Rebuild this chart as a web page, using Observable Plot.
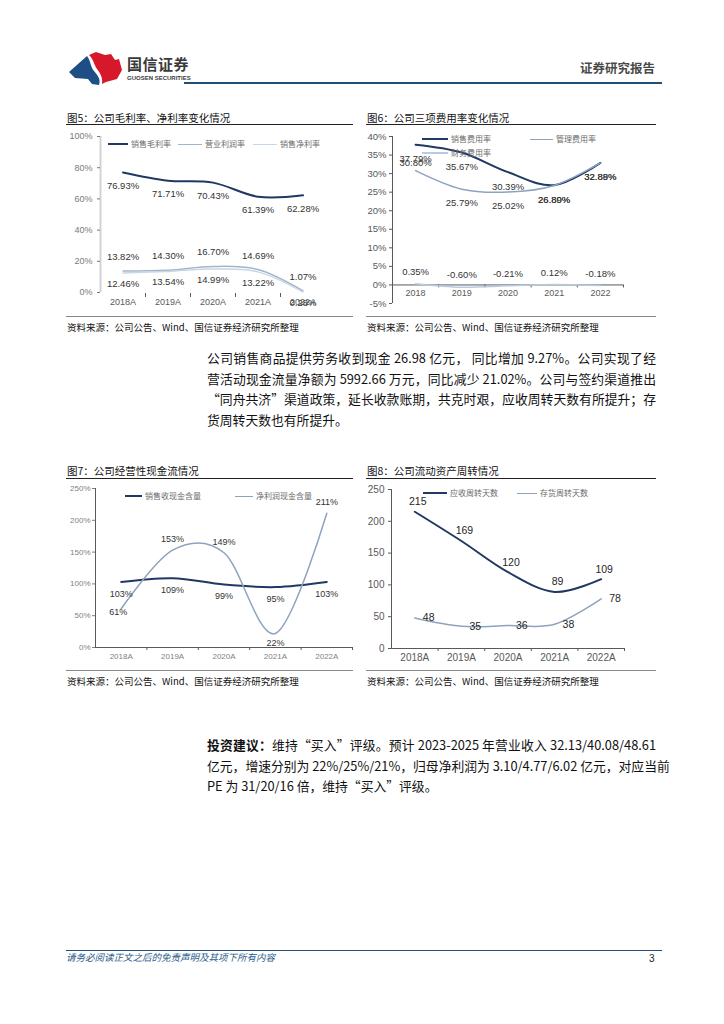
<!DOCTYPE html>
<html><head><meta charset="utf-8">
<script src="https://cdn.jsdelivr.net/npm/d3@7"></script>
<script src="https://cdn.jsdelivr.net/npm/@observablehq/plot@0.6"></script>
<style>
html,body{margin:0;padding:0;background:#fff;}
#page{position:relative;width:724px;height:1024px;overflow:hidden;font-family:"Noto Sans CJK SC","Noto Sans",sans-serif;color:#111;}
.a{position:absolute;white-space:nowrap;}
.title{font-size:10.5px;color:#111;line-height:15px;}
.src{font-size:9.5px;color:#111;line-height:14px;}
.hr{position:absolute;height:0;}
.para{position:absolute;left:207px;width:449px;font-size:12.8px;line-height:20.7px;color:#111;}
.para div{text-align:justify;text-align-last:justify;white-space:nowrap;}
.para div.last{text-align-last:left;}
.chart{position:absolute;}
.lg{position:absolute;display:flex;align-items:center;font-size:8px;color:#6b6b6b;white-space:nowrap;height:10px;line-height:10px;}
.lg span{display:inline-block;height:0;margin-right:3px;}
</style></head>
<body><div id="page">
  <!-- header -->
  <svg class="a" style="left:69px;top:52px" width="54" height="34" viewBox="0 0 54 34">
    <path d="M0 20 L18 4 C22 9 21 14 25 19 C29 24 32 27 30 33 L23 32 L19 27 L6 26 Z" fill="#1d4f86"/>
    <path d="M20 3 L27 0 L36 3 L42 2 L46 8 L50 7 L53 18 L48 27 L37 30 L33 32 C34 25 31 21 28 17 C25 13 25 8 20 3 Z" fill="#d7182a"/>
  </svg>
  <div class="a" style="left:127px;top:55px;font-size:15px;font-weight:700;color:#3a3a3a;letter-spacing:0.5px;line-height:18px;">国信证券</div>
  <div class="a" style="left:127px;top:74px;font-size:6px;font-weight:700;color:#3a3a3a;font-family:'Liberation Sans',sans-serif;line-height:8px;">GUOSEN SECURITIES</div>
  <div class="a" style="left:580px;top:60px;font-size:12.5px;font-weight:700;color:#4a4a4a;line-height:16px;">证券研究报告</div>
  <div class="hr" style="left:184px;top:82px;width:478px;border-top:2.5px solid #1f4e79;"></div>

  <!-- chart titles / rules / sources -->
  <div class="a title" style="left:67px;top:110px;">图5：公司毛利率、净利率变化情况</div>
  <div class="hr" style="left:66px;top:124px;width:287px;border-top:1.5px solid #222;"></div>
  <div class="hr" style="left:66px;top:316px;width:287px;border-top:1px solid #888;"></div>
  <div class="a src" style="left:67px;top:320px;">资料来源：公司公告、Wind、国信证券经济研究所整理</div>

  <div class="a title" style="left:367px;top:110px;">图6：公司三项费用率变化情况</div>
  <div class="hr" style="left:366px;top:124px;width:290px;border-top:1.5px solid #222;"></div>
  <div class="hr" style="left:366px;top:316px;width:290px;border-top:1px solid #888;"></div>
  <div class="a src" style="left:367px;top:320px;">资料来源：公司公告、Wind、国信证券经济研究所整理</div>

  <div class="para" style="top:348px;">
    <div>公司销售商品提供劳务收到现金 26.98 亿元， 同比增加 9.27%。公司实现了经</div>
    <div>营活动现金流量净额为 5992.66 万元，同比减少 21.02%。公司与签约渠道推出</div>
    <div>“同舟共济”渠道政策，延长收款账期，共克时艰，应收周转天数有所提升；存</div>
    <div class="last">货周转天数也有所提升。</div>
  </div>

  <div class="a title" style="left:67px;top:463px;">图7：公司经营性现金流情况</div>
  <div class="hr" style="left:66px;top:478px;width:287px;border-top:1.5px solid #222;"></div>
  <div class="hr" style="left:66px;top:670px;width:287px;border-top:1px solid #888;"></div>
  <div class="a src" style="left:67px;top:674px;">资料来源：公司公告、Wind、国信证券经济研究所整理</div>

  <div class="a title" style="left:367px;top:463px;">图8：公司流动资产周转情况</div>
  <div class="hr" style="left:366px;top:478px;width:290px;border-top:1.5px solid #222;"></div>
  <div class="hr" style="left:366px;top:670px;width:290px;border-top:1px solid #888;"></div>
  <div class="a src" style="left:367px;top:674px;">资料来源：公司公告、Wind、国信证券经济研究所整理</div>

  <div class="para" style="top:735px;">
    <div><b>投资建议：</b>维持“买入”评级。预计 2023-2025 年营业收入 32.13/40.08/48.61</div>
    <div>亿元，增速分别为 22%/25%/21%，归母净利润为 3.10/4.77/6.02 亿元，对应当前</div>
    <div class="last">PE 为 31/20/16 倍，维持“买入”评级。</div>
  </div>

  <!-- footer -->
  <div class="hr" style="left:66px;top:950px;width:596px;border-top:1px solid #1f4e79;"></div>
  <div class="a" style="left:66px;top:951px;font-size:9.5px;font-style:italic;color:#2e5c8a;line-height:13px;">请务必阅读正文之后的免责声明及其项下所有内容</div>
  <div class="a" style="left:649px;top:952px;font-size:10px;color:#222;font-family:'Liberation Sans',sans-serif;line-height:13px;">3</div>
</div>
<script>
// ---------- data ----------
const yearsA = ["2018A","2019A","2020A","2021A","2022A"];
const years = ["2018","2019","2020","2021","2022"];
const grossMargin = [76.93, 71.71, 70.43, 61.39, 62.28];
const operatingMargin = [13.82, 14.30, 16.70, 14.69, 1.07];
const netMargin = [12.46, 13.54, 14.99, 13.22, 0.28];
const sellingExpRate = [37.79, 35.67, 30.39, 26.89, 32.89];
const adminExpRate = [30.80, 25.79, 25.02, 26.80, 32.88];
const financeExpRate = [0.35, -0.60, -0.21, 0.12, -0.18];
const salesCashRatio = [103, 109, 99, 95, 103];
const profitCashRatio = [61, 153, 149, 22, 211];
const receivableDays = [215, 169, 120, 89, 109];
const inventoryDays = [48, 35, 36, 38, 78];
const ticksMargin = [0, 20, 40, 60, 80, 100];
const ticksExpense = [-5, 0, 5, 10, 15, 20, 25, 30, 35, 40];
const ticksCash = [0, 50, 100, 150, 200, 250];
const ticksDays = [0, 50, 100, 150, 200, 250];

// ---------- helpers ----------
const NAVY = "#1f3864", GREY = "#8ea3bd", LIGHT = "#b9cbe0";
const page = document.getElementById("page");

function lineChart(o) {
  const n = o.cats.length;
  const [lo, hi] = o.yDomain;
  const unit = (hi - lo) / (o.height - o.mt - o.mb);
  const X = (d, i) => i + 0.5;
  const base = o.base;
  const marks = [];
  marks.push(Plot.ruleX([0], {y1: () => lo, y2: () => hi, stroke: o.axisColor, strokeWidth: o.axisWidth}));
  marks.push(Plot.axisY({ticks: o.yTicks, tickFormat: o.yFmt, tickSize: 3, tickPadding: o.tickPad, fontSize: o.yFont, label: null}));
  if (o.baseLine) marks.push(Plot.ruleY([base], {x1: () => 0, x2: () => n, stroke: o.axisColor, strokeWidth: 1}));
  marks.push(Plot.ruleX(o.tickAt, {x: d => d, y1: () => base - o.tickFrom * unit, y2: () => base - o.tickTo * unit, stroke: "#595959"}));
  marks.push(Plot.text(o.cats, {x: X, y: () => base, dy: o.xDy, text: d => d, fontSize: o.xFont, fill: o.xColor}));
  o.series.forEach(s => marks.push(Plot.line(s.values, {x: X, y: d => d, curve: "cardinal", stroke: s.color, strokeWidth: s.width})));
  o.series.forEach(s => s.labels.forEach(g => marks.push(Plot.text(s.values, {
    x: X, y: d => d, text: o.fmt, filter: g.when || (() => true),
    dx: g.dx || 0, dy: g.dy || 0, textAnchor: g.anchor || "middle",
    fontSize: o.labelFont, fill: o.labelColor
  }))));
  const svg = Plot.plot({
    width: o.width, height: o.height,
    marginLeft: o.ml, marginRight: o.mr, marginTop: o.mt, marginBottom: o.mb,
    x: {domain: [0, n], axis: null},
    y: {domain: o.yDomain},
    style: {fontFamily: "'Liberation Sans', Arial, sans-serif", color: o.axisText, background: "transparent", overflow: "visible"},
    marks
  });
  const box = document.createElement("div");
  box.className = "chart";
  box.style.left = o.left + "px";
  box.style.top = o.top + "px";
  box.appendChild(svg);
  page.appendChild(box);
}

function legend(items) {
  items.forEach(([x, y, w, color, sw, label]) => {
    const d = document.createElement("div");
    d.className = "lg";
    d.style.left = x + "px";
    d.style.top = (y - 5) + "px";
    d.innerHTML = `<span style="width:${w}px;border-top:${sw}px solid ${color}"></span>${label}`;
    page.appendChild(d);
  });
}

// ---------- 图5 ----------
lineChart({
  left: 60, top: 128, width: 300, height: 185, ml: 40, mr: 35, mt: 8, mb: 21,
  cats: yearsA, yDomain: [0, 100], yTicks: ticksMargin, yFmt: d => d + "%",
  axisColor: "#d3d3d3", axisWidth: 2, axisText: "#7a7a7a", tickPad: 5, yFont: 9,
  baseLine: false, base: 0, tickAt: [1, 2, 3, 4], tickFrom: 1, tickTo: 5,
  xDy: 10, xFont: 9, xColor: "#595959",
  fmt: d => d.toFixed(2) + "%", labelFont: 9.5, labelColor: "#333",
  series: [
    {values: grossMargin, color: NAVY, width: 2, labels: [{dy: 13.5}]},
    {values: operatingMargin, color: "#a3b5ca", width: 1.5, labels: [{dy: -14}]},
    {values: netMargin, color: "#c9d6e6", width: 1.5, labels: [{dy: 11}]}
  ]
});
legend([
  [108, 144, 20, NAVY, 2, "销售毛利率"],
  [178, 144, 24, "#a3b5ca", 1.5, "营业利润率"],
  [253, 144, 24, "#c9d6e6", 1.5, "销售净利率"]
]);

// ---------- 图6 ----------
lineChart({
  left: 360, top: 128, width: 300, height: 185, ml: 32, mr: 37, mt: 8, mb: 10,
  cats: years, yDomain: [-5, 40], yTicks: ticksExpense, yFmt: d => d + "%",
  axisColor: "#595959", axisWidth: 1, axisText: "#595959", tickPad: 3, yFont: 9.5,
  baseLine: true, base: 0, tickAt: [1, 2, 3, 4, 5], tickFrom: 0, tickTo: 3,
  xDy: 8.5, xFont: 9, xColor: "#595959",
  fmt: d => d.toFixed(2) + "%", labelFont: 9.5, labelColor: "#333",
  series: [
    {values: sellingExpRate, color: NAVY, width: 2, labels: [{dy: 14.5}]},
    {values: adminExpRate, color: GREY, width: 1.5, labels: [{when: (d, i) => i > 0, dy: 14}, {when: (d, i) => i === 0, dy: -8}]},
    {values: financeExpRate, color: LIGHT, width: 1.5, labels: [{dy: -12}]}
  ]
});
legend([
  [422, 139, 26, NAVY, 2.5, "销售费用率"],
  [530, 139, 23, GREY, 1.5, "管理费用率"],
  [422, 153, 26, LIGHT, 2.5, "财务费用率"]
]);

// ---------- 图7 ----------
lineChart({
  left: 60, top: 483, width: 300, height: 185, ml: 35, mr: 8, mt: 5, mb: 21,
  cats: yearsA, yDomain: [0, 250], yTicks: ticksCash, yFmt: d => d + "%",
  axisColor: "#595959", axisWidth: 1, axisText: "#7f7f7f", tickPad: 2, yFont: 8,
  baseLine: true, base: 0, tickAt: [1, 2, 3, 4, 5], tickFrom: 0, tickTo: 3,
  xDy: 8.5, xFont: 8, xColor: "#7f7f7f",
  fmt: d => d + "%", labelFont: 9, labelColor: "#333",
  series: [
    {values: salesCashRatio, color: NAVY, width: 2, labels: [{dy: 12}]},
    {values: profitCashRatio, color: GREY, width: 1.5, labels: [
      {when: (d, i) => i > 0 && d > 100, dy: -11},
      {when: (d, i) => i > 0 && d <= 100, dy: 10},
      {when: (d, i) => i === 0, dy: 3, dx: -3}
    ]}
  ]
});
legend([
  [125, 496, 17, NAVY, 2, "销售收现金含量"],
  [235, 496, 18, GREY, 1.5, "净利润现金含量"]
]);

// ---------- 图8 ----------
lineChart({
  left: 360, top: 483, width: 300, height: 185, ml: 31, mr: 36, mt: 6, mb: 20,
  cats: yearsA, yDomain: [0, 250], yTicks: ticksDays, yFmt: d => String(d),
  axisColor: "#595959", axisWidth: 1, axisText: "#595959", tickPad: 4, yFont: 10,
  baseLine: true, base: 0, tickAt: [1, 2, 3, 4, 5], tickFrom: 0, tickTo: 3,
  xDy: 9.5, xFont: 10, xColor: "#595959",
  fmt: d => String(d), labelFont: 10.5, labelColor: "#262626",
  series: [
    {values: receivableDays, color: NAVY, width: 2, labels: [{dy: -10, dx: 3}]},
    {values: inventoryDays, color: GREY, width: 1.5, labels: [{dx: 8, anchor: "start"}]}
  ]
});
legend([
  [423, 493, 24, NAVY, 2, "应收周转天数"],
  [517, 493, 20, GREY, 1.5, "存货周转天数"]
]);
</script>
</body></html>
